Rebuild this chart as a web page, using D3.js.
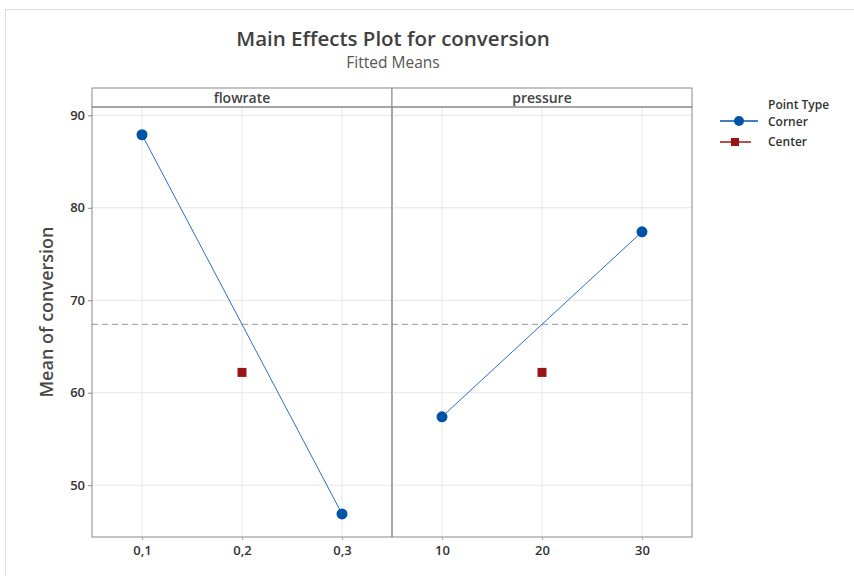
<!DOCTYPE html>
<html>
<head>
<meta charset="utf-8">
<title>Main Effects Plot</title>
<script src="https://cdnjs.cloudflare.com/ajax/libs/d3/7.8.5/d3.min.js"></script>
<style>
  body { margin: 0; background: #fff; }
  svg { font-family: "Open Sans", "Noto Sans", sans-serif; }
</style>
</head>
<body>
<svg id="svg" width="854" height="576"></svg>
<script>
const factors = ['flowrate', 'pressure'];
const levels = [[0.1, 0.3], [10, 30]];
const cornerMeans = [[87.9, 46.9], [57.4, 77.4]];
const centerLevels = [0.2, 20];
const centerMeans = [62.2, 62.2];
const xDomains = [[0.05, 0.35], [5, 35]];
const xTicks = [[0.1, 0.2, 0.3], [10, 20, 30]];
const yTicks = [50, 60, 70, 80, 90];
const grandMean = 67.4;

const svg = d3.select('#svg');
const panelW = 300, plotLeft = 92, plotTop = 107, plotBottom = 537, stripTop = 88;
const blue = '#0054a6', red = '#9b1414';

// frame
svg.append('path').attr('d', 'M5.5,576 V9.5 H854').attr('fill', 'none').attr('stroke', '#ddd');

svg.append('text').attr('x', 393).attr('y', 46).attr('text-anchor', 'middle')
  .attr('font-size', 20.5).attr('font-weight', 600).attr('fill', '#404040').text('Main Effects Plot for conversion');
svg.append('text').attr('x', 393).attr('y', 68).attr('text-anchor', 'middle')
  .attr('font-size', 15.5).attr('fill', '#555').text('Fitted Means');

const y = d3.scaleLinear().domain([44.4, 90.9]).range([plotBottom, plotTop]);

factors.forEach((f, i) => {
  const x0 = plotLeft + i * panelW;
  const x = d3.scaleLinear().domain(xDomains[i]).range([x0, x0 + panelW]);
  const g = svg.append('g');

  // grid
  g.selectAll('.hg').data(yTicks).enter().append('line')
    .attr('x1', x0).attr('x2', x0 + panelW)
    .attr('y1', d => y(d)).attr('y2', d => y(d))
    .attr('stroke', '#e6e6e6');
  g.selectAll('.vg').data(xTicks[i]).enter().append('line')
    .attr('x1', d => x(d)).attr('x2', d => x(d))
    .attr('y1', plotTop).attr('y2', plotBottom)
    .attr('stroke', '#e6e6e6');

  // mean reference
  g.append('line').attr('x1', x0).attr('x2', x0 + panelW)
    .attr('y1', y(grandMean)).attr('y2', y(grandMean))
    .attr('stroke', '#999').attr('stroke-dasharray', '6,4');

  // strip
  g.append('rect').attr('x', x0).attr('y', stripTop).attr('width', panelW).attr('height', plotTop - stripTop)
    .attr('fill', '#fff').attr('stroke', '#888');
  g.append('text').attr('x', x0 + panelW / 2).attr('y', plotTop - 4).attr('text-anchor', 'middle')
    .attr('font-size', 14).attr('font-weight', 600).attr('fill', '#444').text(f);

  // panel border
  g.append('rect').attr('x', x0).attr('y', plotTop).attr('width', panelW).attr('height', plotBottom - plotTop)
    .attr('fill', 'none').attr('stroke', '#888');

  // x axis
  const fmt = i === 0 ? (d => d3.format('.1f')(d).replace('.', ',')) : d3.format('d');
  const xa = g.append('g').attr('transform', `translate(0,${plotBottom})`)
    .call(d3.axisBottom(x).tickValues(xTicks[i]).tickFormat(fmt).tickSize(3).tickPadding(6));
  xa.select('.domain').remove();
  xa.selectAll('.tick line').attr('stroke', '#aaa');
  xa.selectAll('.tick text').attr('font-size', 13).attr('font-weight', 600).attr('fill', '#333')
    .attr('font-family', '"Open Sans", sans-serif');

  // corner line + points
  const pts = levels[i].map((l, k) => [l, cornerMeans[i][k]]);
  g.append('path').datum(pts)
    .attr('d', d3.line().x(d => x(d[0])).y(d => y(d[1])))
    .attr('fill', 'none').attr('stroke', '#2a6fc9').attr('stroke-width', 1);
  g.selectAll('.pt').data(pts).enter().append('circle')
    .attr('cx', d => x(d[0])).attr('cy', d => y(d[1])).attr('r', 5.5).attr('fill', blue);

  // center point
  g.append('rect').attr('x', x(centerLevels[i]) - 4.5).attr('y', y(centerMeans[i]) - 4.5)
    .attr('width', 9).attr('height', 9).attr('fill', red);
});

// y axis
const ya = svg.append('g').attr('transform', `translate(${plotLeft},0)`)
  .call(d3.axisLeft(y).tickValues(yTicks).tickSize(4).tickPadding(3));
ya.select('.domain').remove();
ya.selectAll('.tick line').attr('stroke', '#888');
ya.selectAll('.tick text').attr('font-size', 13).attr('font-weight', 600).attr('fill', '#333')
  .attr('font-family', '"Open Sans", sans-serif');

svg.append('text').attr('transform', `translate(53,${(plotTop + plotBottom) / 2 - 10}) rotate(-90)`)
  .attr('text-anchor', 'middle').attr('font-size', 18).attr('font-weight', 600).attr('fill', '#484848').text('Mean of conversion');

// legend
const lg = svg.append('g');
lg.append('text').attr('x', 768).attr('y', 109).attr('font-size', 12).attr('font-weight', 600).attr('fill', '#333').text('Point Type');
lg.append('line').attr('x1', 720).attr('x2', 758).attr('y1', 121).attr('y2', 121).attr('stroke', blue).attr('stroke-width', 1.5);
lg.append('circle').attr('cx', 739).attr('cy', 121).attr('r', 5).attr('fill', blue);
lg.append('text').attr('x', 768).attr('y', 126).attr('font-size', 12).attr('font-weight', 600).attr('fill', '#333').text('Corner');
lg.append('line').attr('x1', 720).attr('x2', 751).attr('y1', 142).attr('y2', 142).attr('stroke', red).attr('stroke-width', 1.5);
lg.append('rect').attr('x', 731).attr('y', 138).attr('width', 8).attr('height', 8).attr('fill', red);
lg.append('text').attr('x', 768).attr('y', 146).attr('font-size', 12).attr('font-weight', 600).attr('fill', '#333').text('Center');
</script>
</body>
</html>
